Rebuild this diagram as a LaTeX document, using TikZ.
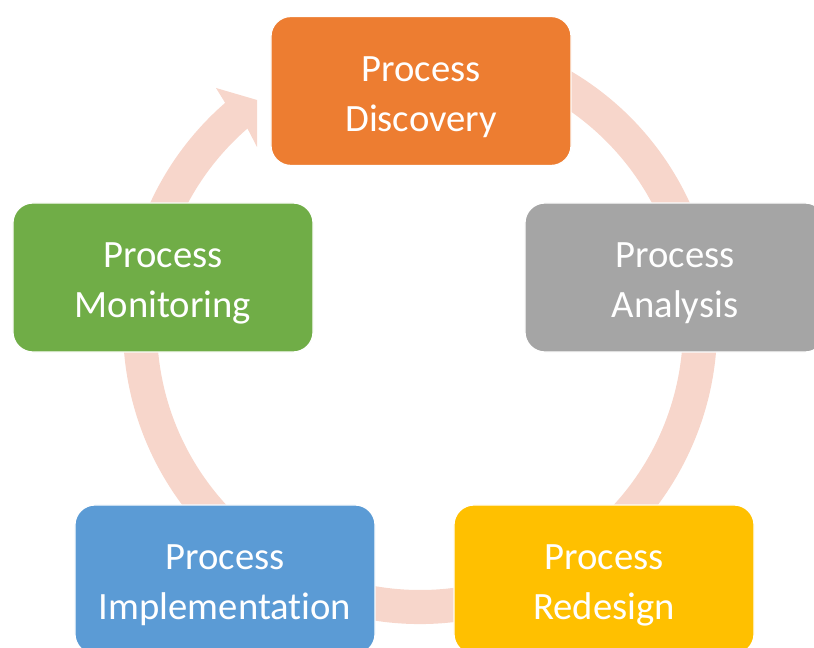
\documentclass[tikz,border=0pt]{standalone}
\usepackage{fontspec}
\setmainfont{Carlito}[Ligatures={NoCommon,NoContextual}]
\usepackage{tikz}
\usetikzlibrary{calc,positioning}
\definecolor{discovery}{HTML}{ED7D31}
\definecolor{analysis}{HTML}{A5A5A5}
\definecolor{redesign}{HTML}{FFC000}
\definecolor{implement}{HTML}{5B9BD5}
\definecolor{monitor}{HTML}{70AD47}
\definecolor{ringpink}{HTML}{F7D6CB}
\tikzset{
    x=0.025cm, y=0.025cm,
    stage/.style ={rectangle, rounded corners=0.5cm, draw=white, line width=0.9pt, minimum width=7.5cm, minimum height=3.725cm, inner sep=0pt, label={[stagetext]center:#1}},
    stagetext/.style = {text=white, align=center, yshift=-0.15cm, font=\fontsize{27.5}{35.5}\selectfont},
    ring/.style = {fill=ringpink}
}
\begin{document}
\begin{tikzpicture}
	\clip (0,0) rectangle (814,648);
	\coordinate (c) at (420,321);

	% cycle arrow behind the stages
	\fill[ring] ($(c)+(65:297)$) arc[start angle=65, end angle=-229, radius=297]
		-- (216,560) -- (257,548) -- (257,501)
		-- ($(c)+(131:263)$) arc[start angle=131, end angle=425, radius=263] -- cycle;

	\node[stage={Process\\Discovery}, fill=discovery] (1) at (421,557) {};
	\node[stage={Process\\Analysis}, fill=analysis] (2) at (675,370.5) {};
	\node[stage={Process\\Redesign}, fill=redesign] (3) at (604,68.5) {};
	\node[stage={Process\\Implementation}, fill=implement] (4) at (225,68.5) {};
	\node[stage={Process\\Monitoring}, fill=monitor] (5) at (163,370.5) {};
\end{tikzpicture}
\end{document}
